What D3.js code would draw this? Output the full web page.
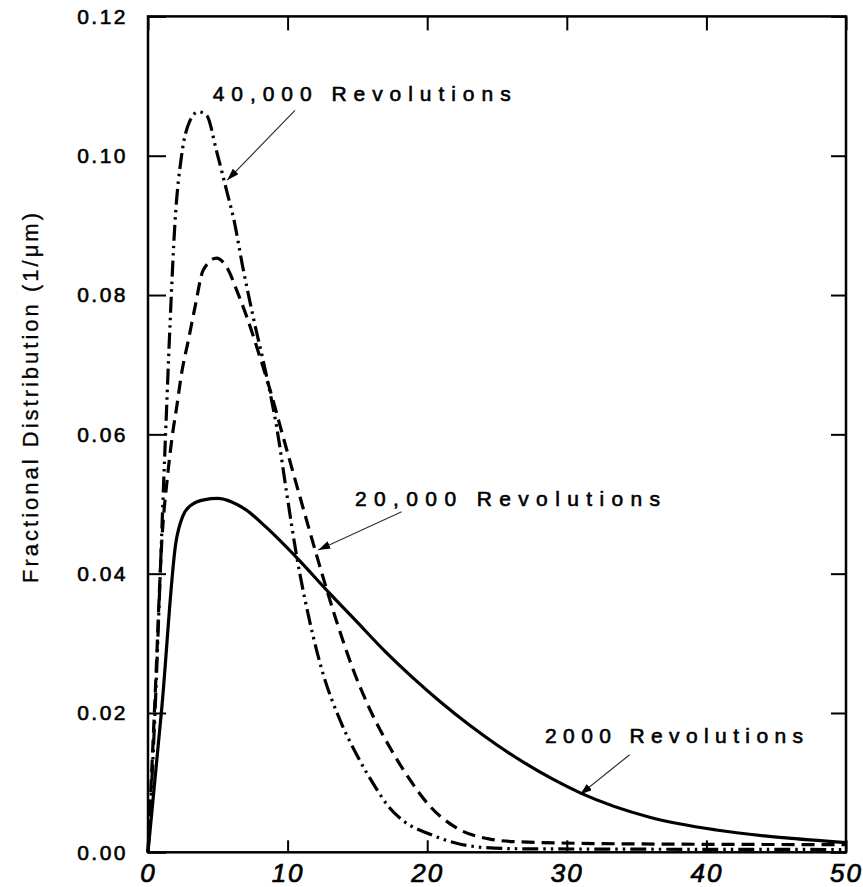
<!DOCTYPE html>
<html>
<head>
<meta charset="utf-8">
<script src="https://cdn.jsdelivr.net/npm/d3@7"></script>
<style>
  html, body { margin: 0; padding: 0; background: #fff; }
  svg { display: block; }
  text { font-family: "Liberation Sans", Arial, sans-serif; fill: #000; }
</style>
</head>
<body>
<svg id="chart" width="863" height="887"></svg>
<script>
// ---- data (x in µm, y fractional distribution 1/µm) ----
const rev2000 = [
  [0,0],[1,0.021],[2,0.0445],[2.5,0.0483],[3,0.0497],[4,0.0506],[5,0.0508],[6,0.0503],
  [7,0.0492],[8.5,0.0466],[10.65,0.0423],[13,0.0372],[15,0.033],[17,0.0288],[19,0.025],
  [21,0.0215],[23,0.0183],[25,0.0154],[27,0.0128],[29,0.0105],[31,0.0085],[36,0.005],
  [40.7,0.0032],[45.5,0.0021],[50,0.0014]
];
const rev20000 = [
  [0,0],[0.5,0.022],[1.0,0.045],[1.4,0.054],[1.7,0.0592],[2.06,0.064],[2.41,0.0688],[2.89,0.0735],
  [3.37,0.0783],[3.96,0.0836],[4.9,0.0853],[5.75,0.0836],[6.35,0.0807],[7.07,0.0769],[8.02,0.0711],
  [8.74,0.0664],[9.7,0.0595],[11.1,0.0495],[12.2,0.0418],[13.5,0.0332],[14.7,0.0262],[15.9,0.0205],
  [17.34,0.015],[18.7,0.0106],[20.2,0.0066],[22.1,0.0035],[24.5,0.0019],[26.6,0.0015],[35,0.0012],[50,0.0011]
];
const rev40000 = [
  [0,0],[0.5,0.02],[0.86,0.039],[1.1,0.052],[1.29,0.0616],[1.58,0.0759],[1.93,0.0903],[2.41,0.1001],
  [3.0,0.105],[3.6,0.1063],[4.2,0.1058],[4.92,0.1006],[5.68,0.0946],[6.11,0.0912],[6.83,0.0836],
  [7.54,0.0768],[8.5,0.0683],[9.22,0.061],[9.94,0.0515],[10.65,0.0425],[11.6,0.033],[12.56,0.0255],
  [13.75,0.019],[14.95,0.014],[16.4,0.009],[17.1,0.0069],[18.3,0.0045],[20.2,0.0026],
  [22.1,0.0013],[24,0.0007],[27,0.0005],[50,0.0004]
];
const xTicks = [0, 10, 20, 30, 40, 50];
const xTickLabels = ["0", "10", "20", "30", "40", "50"];
const yTicks = [0, 0.02, 0.04, 0.06, 0.08, 0.10, 0.12];
const yTickLabels = ["0.00", "0.02", "0.04", "0.06", "0.08", "0.10", "0.12"];
const yTitle = "Fractional Distribution (1/\u03bcm)";
// annotation label anchor and arrow (from -> to) in data units
const annLabels = ["40,000 Revolutions", "20,000  Revolutions", "2000 Revolutions"];
const annText = [[4.63, 0.1079], [14.83, 0.0497], [28.44, 0.0157]];
const annFrom = [[10.53, 0.1065], [18.17, 0.0489], [34.5, 0.014]];
const annTo = [[5.68, 0.0965], [12.2, 0.0434], [30.95, 0.0083]];

// ---- layout ----
const svg = d3.select("#chart");
const L = 148, R = 846, T = 16.4, B = 852.3;
const x = d3.scaleLinear().domain([0, 50]).range([L, R]);
const y = d3.scaleLinear().domain([0, 0.12]).range([B, T]);

// axes (ticks inward)
const gl = svg.append("g").attr("transform", `translate(${L},0)`)
  .call(d3.axisLeft(y).tickValues(yTicks).tickSize(-18).tickPadding(20)
    .tickFormat((d, i) => yTickLabels[i]));
const gr = svg.append("g").attr("transform", `translate(${R},0)`)
  .call(d3.axisRight(y).tickValues(yTicks).tickSize(-15).tickFormat(""));
const gb = svg.append("g").attr("transform", `translate(0,${B})`)
  .call(d3.axisBottom(x).tickValues(xTicks).tickSize(-12).tickPadding(11)
    .tickFormat((d, i) => xTickLabels[i]));
const gt = svg.append("g").attr("transform", `translate(0,${T})`)
  .call(d3.axisTop(x).tickValues(xTicks).tickSize(-14).tickFormat(""));
[gl, gr, gb, gt].forEach(g => {
  g.select(".domain").remove();
  g.selectAll(".tick line").attr("stroke", "#000").attr("stroke-width", 2);
});
gl.selectAll(".tick text").attr("font-size", 21).attr("letter-spacing", 2.5)
  .attr("font-family", "Liberation Sans, Arial, sans-serif").attr("fill", "#000")
  .attr("stroke", "#000").attr("stroke-width", 0.6);
gb.selectAll(".tick text").attr("font-size", 26).attr("font-style", "italic")
  .attr("letter-spacing", 2).attr("font-family", "Liberation Sans, Arial, sans-serif")
  .attr("fill", "#000").attr("stroke", "#000").attr("stroke-width", 0.7);

// frame
svg.append("rect").attr("x", L).attr("y", T).attr("width", R - L).attr("height", B - T)
  .attr("fill", "none").attr("stroke", "#000").attr("stroke-width", 2.5);

// y title
svg.append("text")
  .attr("transform", `translate(38,${(213 + 583) / 2}) rotate(-90)`)
  .attr("text-anchor", "middle").attr("font-size", 22)
  .attr("textLength", 370).attr("lengthAdjust", "spacing")
  .attr("stroke", "#000").attr("stroke-width", 0.3)
  .text(yTitle);

// curves
const line = d3.line().x(d => x(d[0])).y(d => y(d[1])).curve(d3.curveMonotoneX);
const curveG = svg.append("g").attr("fill", "none").attr("stroke", "#000")
  .attr("stroke-linecap", "butt").attr("stroke-linejoin", "round");
curveG.append("path").datum(rev2000).attr("d", line).attr("stroke-width", 3.2);
curveG.append("path").datum(rev20000).attr("d", line).attr("stroke-width", 3.2)
  .attr("stroke-dasharray", "13,7");
curveG.append("path").datum(rev40000).attr("d", line).attr("stroke-width", 3.2)
  .attr("stroke-dasharray", "16,5,2.5,5,2.5,5");

// annotations
const defs = svg.append("defs");
defs.append("marker").attr("id", "ah").attr("viewBox", "0 0 12 8")
  .attr("refX", 12).attr("refY", 4).attr("markerWidth", 12).attr("markerHeight", 8)
  .attr("markerUnits", "userSpaceOnUse").attr("orient", "auto")
  .append("path").attr("d", "M0,0 L12,4 L0,8 Z").attr("fill", "#000");

const textLens = [298, 305, 258];
annLabels.forEach((t, i) => {
  svg.append("text").attr("x", x(annText[i][0])).attr("y", y(annText[i][1]))
    .attr("font-size", 21).attr("textLength", textLens[i]).attr("lengthAdjust", "spacing")
    .attr("stroke", "#000").attr("stroke-width", 0.6)
    .text(t);
  svg.append("line")
    .attr("x1", x(annFrom[i][0])).attr("y1", y(annFrom[i][1]))
    .attr("x2", x(annTo[i][0])).attr("y2", y(annTo[i][1]))
    .attr("stroke", "#333").attr("stroke-width", 1.2)
    .attr("marker-end", "url(#ah)");
});
</script>
</body>
</html>
